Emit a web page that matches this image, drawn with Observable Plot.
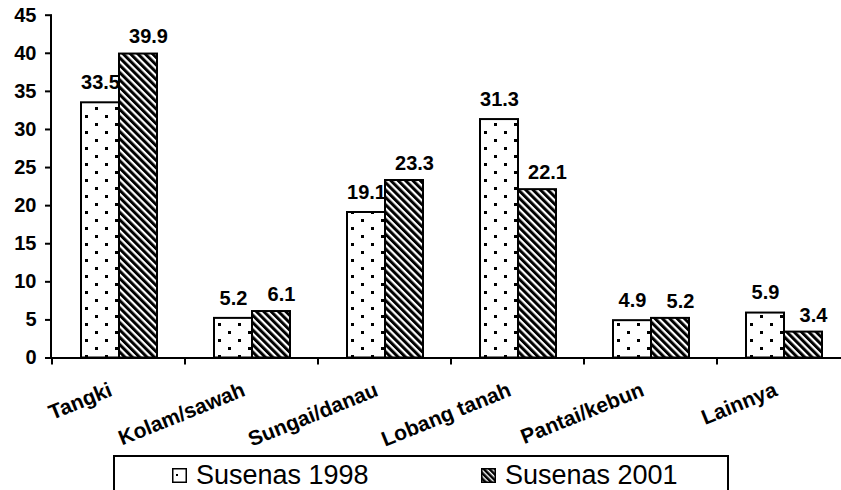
<!DOCTYPE html>
<html>
<head>
<meta charset="utf-8">
<script src="https://cdn.jsdelivr.net/npm/d3@7"></script>
<script src="https://cdn.jsdelivr.net/npm/@observablehq/plot@0.6"></script>
<style>
  html, body { margin: 0; padding: 0; background: #fff; }
  #wrap { position: relative; width: 841px; height: 490px; overflow: hidden; font-family: "Liberation Sans", Arial, sans-serif; }
  #legend { position: absolute; left: 113px; top: 455px; width: 616px; height: 60px; border: 2px solid #000; box-sizing: border-box; background: #fff; }
  .item { position: absolute; top: 5px; display: flex; align-items: center; font-size: 27px; line-height: 27px; color: #000; }
  .item svg { margin-right: 9px; }
</style>
</head>
<body>
<svg width="0" height="0" style="position:absolute">
  <defs>
    <pattern id="dots" patternUnits="userSpaceOnUse" width="20" height="16">
      <rect width="20" height="16" fill="#fff"/>
      <rect x="4" y="3" width="3" height="3" fill="#000"/>
      <rect x="14" y="11" width="3" height="3" fill="#000"/>
    </pattern>
    <pattern id="hatch" patternUnits="userSpaceOnUse" width="5.2" height="10" patternTransform="rotate(-45)">
      <rect width="5.2" height="10" fill="#fff"/>
      <rect width="3" height="10" fill="#000"/>
    </pattern>
    <pattern id="dotIcon" patternUnits="userSpaceOnUse" width="14" height="14">
      <rect width="14" height="14" fill="#fff"/>
      <rect x="4" y="6" width="2" height="2" fill="#000"/>
    </pattern>
    <pattern id="hatchIcon" patternUnits="userSpaceOnUse" width="4" height="10" patternTransform="rotate(-45)">
      <rect width="4" height="10" fill="#fff"/>
      <rect width="2.6" height="10" fill="#000"/>
    </pattern>
  </defs>
</svg>
<div id="wrap">
  <div id="chart"></div>
  <div id="legend"></div>
</div>
<script>
const categories = ["Tangki", "Kolam/sawah", "Sungai/danau", "Lobang tanah", "Pantai/kebun", "Lainnya"];
const seriesNames = ["Susenas 1998", "Susenas 2001"];
const values1998 = [33.5, 5.2, 19.1, 31.3, 4.9, 5.9];
const values2001 = [39.9, 6.1, 23.3, 22.1, 5.2, 3.4];
const yTicks = [0, 5, 10, 15, 20, 25, 30, 35, 40, 45];
const patterns = ["url(#dots)", "url(#hatch)"];
const iconPatterns = ["url(#dotIcon)", "url(#hatchIcon)"];

const rows = [];
categories.forEach((c, i) => {
  rows.push({cat: c, series: seriesNames[0], value: values1998[i]});
  rows.push({cat: c, series: seriesNames[1], value: values2001[i]});
});
const rows98 = rows.filter(d => d.series === seriesNames[0]);
const rows01 = rows.filter(d => d.series === seriesNames[1]);

const font = "Liberation Sans, Arial, sans-serif";
const labelStyle = {fx: "cat", x: "series", y: "value", text: d => d.value.toFixed(1), fontSize: 20, fontWeight: "bold", fill: "#000"};

const chart = Plot.plot({
  width: 841,
  height: 452,
  marginLeft: 51,
  marginRight: -10,
  marginTop: 14.7,
  marginBottom: 94.5,
  style: {fontFamily: font, color: "#000", background: "transparent", overflow: "hidden"},
  fx: {domain: categories, padding: 0, label: null},
  x: {domain: seriesNames, paddingInner: 0, paddingOuter: 0.73, axis: null},
  y: {domain: [0, 45], label: null},
  marks: [
    Plot.axisY({ticks: yTicks, tickSize: 7, tickPadding: 9, fontSize: 20, fontWeight: "bold", label: null, strokeWidth: 2}),
    Plot.axisFx({anchor: "bottom", tickSize: 0, tickPadding: 31, tickRotate: -22, fontSize: 21, fontWeight: "bold", label: null, dx: -8}),
    Plot.barY(rows98, {fx: "cat", x: "series", y: "value", fill: patterns[0], stroke: "#000", strokeWidth: 2}),
    Plot.barY(rows01, {fx: "cat", x: "series", y: "value", fill: patterns[1], stroke: "#000", strokeWidth: 2}),
    Plot.text(rows98, {...labelStyle, dy: -20}),
    Plot.text(rows01, {...labelStyle, dy: -17, dx: 10}),
    Plot.ruleY([0], {stroke: "#000", strokeWidth: 2})
  ]
});
document.getElementById("chart").appendChild(chart);

// y-axis line and category boundary ticks, positioned through Plot's scales
const svg = d3.select(chart);
const fx = chart.scale("fx");
const y = chart.scale("y");
const x0 = fx.range[0];
svg.append("line")
  .attr("x1", x0).attr("x2", x0)
  .attr("y1", y.apply(45)).attr("y2", y.apply(0))
  .attr("stroke", "#000").attr("stroke-width", 2);
const step = fx.step;
categories.concat([null]).forEach((c, i) => {
  const xb = c === null ? fx.apply(categories[categories.length - 1]) + step : fx.apply(c);
  svg.append("line")
    .attr("x1", xb).attr("x2", xb)
    .attr("y1", y.apply(0)).attr("y2", y.apply(0) + 7)
    .attr("stroke", "#000").attr("stroke-width", 2);
});

// legend
const legend = d3.select("#legend");
const lefts = [57, 366];
seriesNames.forEach((s, i) => {
  const item = legend.append("div").attr("class", "item").style("left", lefts[i] + "px");
  const ic = item.append("svg").attr("width", 15).attr("height", 15);
  ic.append("rect").attr("x", 0.75).attr("y", 0.75).attr("width", 13.5).attr("height", 13.5)
    .attr("fill", iconPatterns[i]).attr("stroke", "#000").attr("stroke-width", 1.5);
  item.append("span").text(s);
});
</script>
</body>
</html>
